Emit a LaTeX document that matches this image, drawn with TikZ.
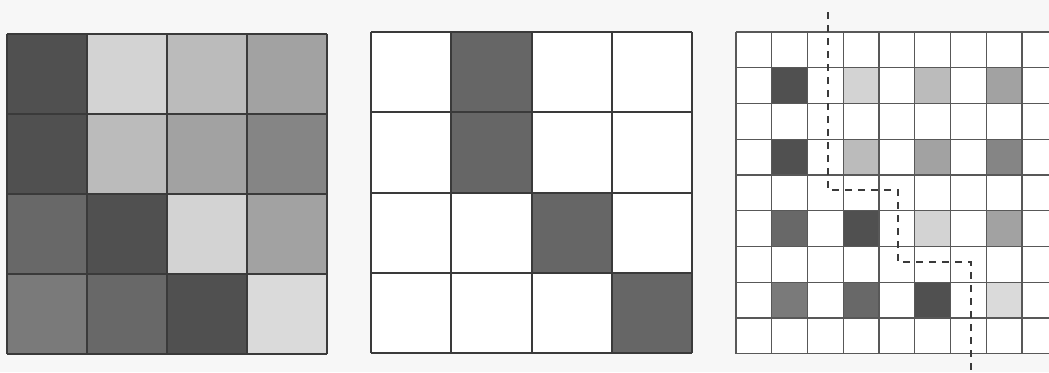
\documentclass[tikz,border=0pt]{standalone}
\usetikzlibrary{calc}
\definecolor{paper}{HTML}{F7F7F7}
\definecolor{gridline}{HTML}{3A3A3A}
\definecolor{gA}{HTML}{505050}
\definecolor{gB}{HTML}{D3D3D3}
\definecolor{gC}{HTML}{BBBBBB}
\definecolor{gD}{HTML}{A2A2A2}
\definecolor{gE}{HTML}{858585}
\definecolor{gF}{HTML}{686868}
\definecolor{gG}{HTML}{7A7A7A}
\definecolor{gH}{HTML}{DADADA}
\definecolor{gM}{HTML}{666666}
\tikzset{
  gridstroke/.style={draw=gridline, line width=1.8pt},
  fine/.style={draw=gridline!85, line width=1.4pt},
  pathdash/.style={draw=gridline, line width=2.2pt, dash pattern=on 7pt off 6pt}
}
\begin{document}
\begin{tikzpicture}[x=1pt,y=-1pt]
\useasboundingbox (0,0) rectangle (1049,372);
\fill[paper] (0,0) rectangle (1049,372);
% ---------- left panel ----------
\def\LX{7}\def\LY{34}\def\LC{80}
\foreach \row/\list in {0/{gA,gB,gC,gD},1/{gA,gC,gD,gE},2/{gF,gA,gB,gD},3/{gG,gF,gA,gH}}{
  \foreach \col [count=\c from 0] in \list {
    \fill[\col] (\LX+\c*\LC,\LY+\row*\LC) rectangle ++(\LC,\LC);
  }
}
\foreach \k in {0,...,4}{
  \draw[gridstroke] (\LX+\k*\LC,\LY) -- (\LX+\k*\LC,\LY+4*\LC);
  \draw[gridstroke] (\LX,\LY+\k*\LC) -- (\LX+4*\LC,\LY+\k*\LC);
}
% ---------- middle panel ----------
\def\MX{371}\def\MY{32}\def\MC{80.3}
\fill[white] (\MX,\MY) rectangle ++(4*\MC,4*\MC);
\foreach \c/\r in {1/0,1/1,2/2,3/3}{
  \fill[gM] (\MX+\c*\MC,\MY+\r*\MC) rectangle ++(\MC,\MC);
}
\foreach \k in {0,...,4}{
  \draw[gridstroke] (\MX+\k*\MC,\MY) -- (\MX+\k*\MC,\MY+4*\MC);
  \draw[gridstroke] (\MX,\MY+\k*\MC) -- (\MX+4*\MC,\MY+\k*\MC);
}
% ---------- right panel ----------
\def\RX{736}\def\RY{32}\def\RC{35.75}
\begin{scope}
\clip (0,0) rectangle (1049,372);
\fill[white] (\RX,\RY) rectangle ++(9*\RC,9*\RC);
\foreach \row/\list in {1/{gA,gB,gC,gD},3/{gA,gC,gD,gE},5/{gF,gA,gB,gD},7/{gG,gF,gA,gH}}{
  \foreach \col [count=\c from 0] in \list {
    \fill[\col] (\RX+\c*2*\RC+\RC,\RY+\row*\RC) rectangle ++(\RC,\RC);
  }
}
\foreach \k in {0,...,9}{
  \draw[fine] (\RX+\k*\RC,\RY) -- (\RX+\k*\RC,\RY+9*\RC);
  \draw[fine] (\RX,\RY+\k*\RC) -- (\RX+9*\RC,\RY+\k*\RC);
}
\end{scope}
% dashed path
\coordinate (p0) at (828,12);
\coordinate (p1) at (828,190);
\coordinate (p2) at (898,190);
\coordinate (p3) at (898,262);
\coordinate (p4) at (971,262);
\coordinate (p5) at (971,372);
\draw[pathdash] (p0) -- (p1) -- (p2) -- (p3) -- (p4) -- (p5);
\end{tikzpicture}
\end{document}
